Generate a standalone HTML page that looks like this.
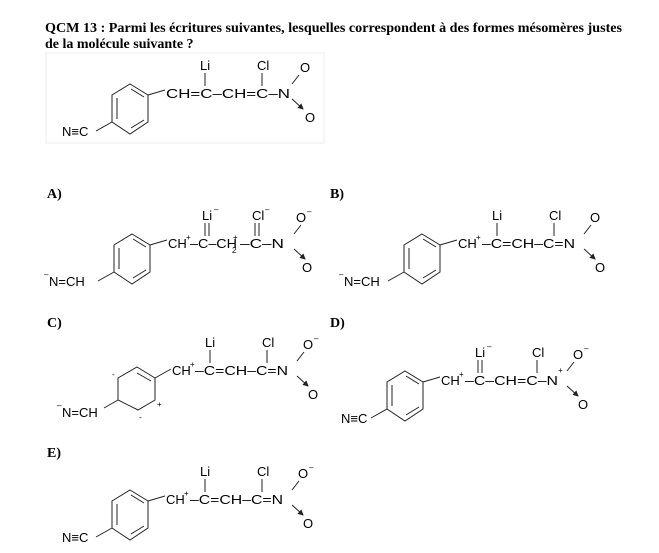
<!DOCTYPE html>
<html><head><meta charset="utf-8"><style>
html,body{margin:0;padding:0;background:#fff;}
svg{display:block;}
.h{font-family:"Liberation Serif",serif;font-weight:bold;font-size:14px;fill:#000;}
.t{font-family:"Liberation Sans",sans-serif;font-size:13px;fill:#000;}
.s{font-family:"Liberation Sans",sans-serif;font-size:8px;fill:#000;}
line,polyline,polygon{stroke:#222;stroke-width:1;fill:none;}
</style></head><body>
<svg width="659" height="553" viewBox="0 0 659 553" xmlns="http://www.w3.org/2000/svg">
<defs>
<marker id="ah" markerWidth="6" markerHeight="6" refX="5" refY="3" orient="auto"><path d="M0,0 L6,3 L0,6 z" fill="#222"/></marker>
<g id="ring">
<polygon points="130,84 148,95 148,122 130,134 112,122 112,95"/>
<line x1="117" y1="98" x2="117" y2="119"/>
<line x1="131" y1="89" x2="144" y2="97"/>
<line x1="144" y1="120" x2="131" y2="128"/>
<line x1="148" y1="95" x2="165" y2="90"/>
</g>
<g id="no">
<line x1="292" y1="84" x2="299" y2="75"/>
<line x1="292" y1="99" x2="303" y2="109" marker-end="url(#ah)"/>
</g>
</defs>
<text class="h" x="45" y="32" textLength="577" lengthAdjust="spacingAndGlyphs">QCM 13 : Parmi les écritures suivantes, lesquelles correspondent à des formes mésomères justes</text>
<text class="h" x="45" y="48">de la molécule suivante ?</text>
<rect x="46" y="53" width="278" height="90" fill="none" stroke="#eee"/>

<!-- main -->
<g>
<use href="#ring"/><use href="#no"/>
<line x1="112" y1="122" x2="96" y2="131"/>
<text class="t" x="62" y="136">N≡C</text>
<text class="t" x="166" y="98" textLength="124" lengthAdjust="spacingAndGlyphs">CH=C–CH=C–N</text>
<line x1="205" y1="73" x2="205" y2="86"/><text class="t" x="200" y="70">Li</text>
<line x1="262" y1="73" x2="262" y2="86"/><text class="t" x="257" y="70">Cl</text>
<text class="t" x="300" y="72">O</text><text class="t" x="305" y="122">O</text>
</g>

<text class="h" x="47" y="198">A)</text>
<g transform="translate(2,150)">
<use href="#ring"/><use href="#no"/>
<line x1="112" y1="122" x2="96" y2="131"/>
<text class="s" x="42" y="127">–</text><text class="t" x="47" y="136">N=CH</text>
<text class="t" x="166" y="98">CH</text><text class="s" x="184" y="90">+</text>
<text class="t" x="188" y="98" textLength="47" lengthAdjust="spacingAndGlyphs">–C–CH</text><text class="s" x="230" y="103">2</text><text class="s" x="231" y="90">+</text>
<text class="t" x="238" y="98" textLength="44" lengthAdjust="spacingAndGlyphs">–C–N</text>
<line x1="203" y1="73" x2="203" y2="86"/><line x1="207" y1="73" x2="207" y2="86"/>
<text class="t" x="200" y="70">Li</text><text class="s" x="212" y="62">–</text>
<line x1="253" y1="73" x2="253" y2="86"/><line x1="257" y1="73" x2="257" y2="86"/>
<text class="t" x="250" y="70">Cl</text><text class="s" x="263" y="62">–</text>
<text class="t" x="294" y="72">O</text><text class="s" x="305" y="64">–</text><text class="t" x="300" y="122">O</text>
</g>

<text class="h" x="330" y="198">B)</text>
<g transform="translate(292,150)">
<use href="#ring"/><use href="#no"/>
<line x1="112" y1="122" x2="96" y2="131"/>
<text class="s" x="47" y="127">–</text><text class="t" x="52" y="136">N=CH</text>
<text class="t" x="166" y="98">CH</text><text class="s" x="184" y="90">+</text>
<text class="t" x="190" y="98" textLength="93" lengthAdjust="spacingAndGlyphs">–C=CH–C=N</text>
<line x1="205" y1="73" x2="205" y2="86"/><text class="t" x="200" y="70">Li</text>
<line x1="262" y1="73" x2="262" y2="86"/><text class="t" x="257" y="70">Cl</text>
<text class="t" x="298" y="72">O</text><text class="t" x="303" y="122">O</text>
</g>

<text class="h" x="47" y="327">C)</text>
<g transform="translate(5,277)">
<polygon points="132,90 150,101 150,123 133,133 113,123 113,101"/>
<line x1="132" y1="96" x2="146" y2="104"/>
<line x1="150" y1="101" x2="166" y2="92"/>
<use href="#no"/>
<text class="s" x="107" y="100">-</text><text class="s" x="152" y="130">+</text><text class="s" x="134" y="143">-</text>
<line x1="113" y1="123" x2="99" y2="131"/>
<text class="s" x="52" y="131">–</text><text class="t" x="57" y="140">N=CH</text>
<text class="t" x="167" y="98">CH</text><text class="s" x="185" y="90">+</text>
<text class="t" x="190" y="98" textLength="93" lengthAdjust="spacingAndGlyphs">–C=CH–C=N</text>
<line x1="205" y1="73" x2="205" y2="86"/><text class="t" x="200" y="70">Li</text>
<line x1="262" y1="73" x2="262" y2="86"/><text class="t" x="257" y="70">Cl</text>
<text class="t" x="298" y="72">O</text><text class="s" x="309" y="64">–</text><text class="t" x="303" y="122">O</text>
</g>

<text class="h" x="330" y="327">D)</text>
<g transform="translate(275,287)">
<use href="#ring"/><use href="#no"/>
<line x1="112" y1="122" x2="96" y2="131"/>
<text class="t" x="66" y="136">N≡C</text>
<text class="t" x="166" y="98">CH</text><text class="s" x="184" y="90">+</text>
<text class="t" x="190" y="98" textLength="93" lengthAdjust="spacingAndGlyphs">–C–CH=C–N</text><text class="s" x="283" y="86">+</text>
<line x1="203" y1="73" x2="203" y2="86"/><line x1="207" y1="73" x2="207" y2="86"/>
<text class="t" x="200" y="70">Li</text><text class="s" x="212" y="62">–</text>
<line x1="262" y1="73" x2="262" y2="86"/><text class="t" x="257" y="70">Cl</text>
<text class="t" x="298" y="72">O</text><text class="s" x="309" y="64">–</text><text class="t" x="303" y="122">O</text>
</g>

<text class="h" x="47" y="457">E)</text>
<g transform="translate(0,406)">
<use href="#ring"/><use href="#no"/>
<line x1="112" y1="122" x2="96" y2="131"/>
<text class="t" x="62" y="136">N≡C</text>
<text class="t" x="166" y="98">CH</text><text class="s" x="184" y="90">+</text>
<text class="t" x="190" y="98" textLength="93" lengthAdjust="spacingAndGlyphs">–C=CH–C=N</text>
<line x1="205" y1="73" x2="205" y2="86"/><text class="t" x="200" y="70">Li</text>
<line x1="262" y1="73" x2="262" y2="86"/><text class="t" x="257" y="70">Cl</text>
<text class="t" x="298" y="72">O</text><text class="s" x="309" y="64">–</text><text class="t" x="303" y="122">O</text>
</g>
</svg>
</body></html>
